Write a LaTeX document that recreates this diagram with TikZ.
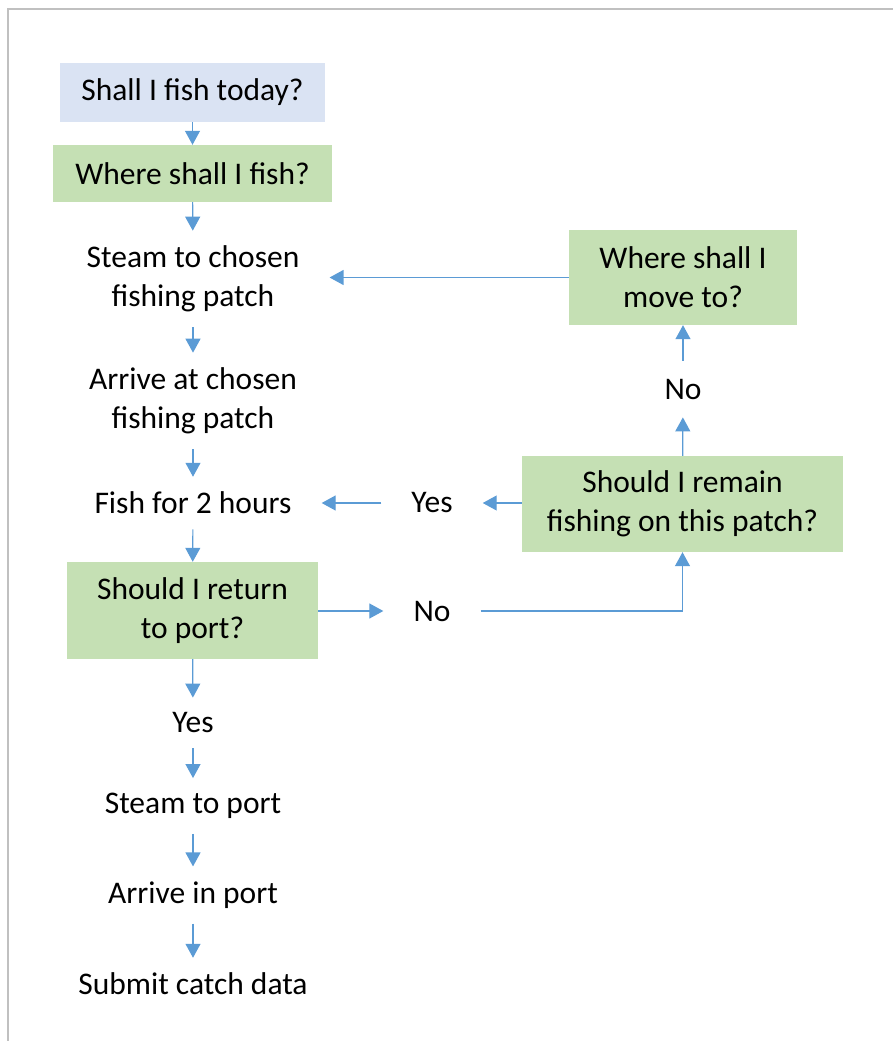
\documentclass[tikz,border=0pt]{standalone}
\usepackage{fontspec}
\setmainfont{Carlito}
\usetikzlibrary{arrows.meta}
\definecolor{boxblue}{HTML}{DAE3F3}
\definecolor{boxgreen}{HTML}{C5E0B4}
\definecolor{lineblue}{HTML}{5B9BD5}
\definecolor{framegray}{HTML}{C0C0C0}
\begin{document}
\begin{tikzpicture}[x=1pt,y=-1pt,
    font=\fontsize{31.5}{39}\selectfont,
    txt/.style={align=center, inner xsep=30pt, inner ysep=15pt},
    qbox/.style={align=center, inner sep=0pt, fill=boxgreen},
    arr/.style={draw=lineblue, line width=1.2pt, -{Triangle[length=14pt,width=15pt]}}]
  \useasboundingbox (0,0) rectangle (893,1041);
  \draw[framegray, line width=2pt] (8,1041) -- (8,9) -- (893,9);

  \node[qbox, fill=boxblue, minimum width=265pt, minimum height=59pt] (today) at (192.5,92.5) {Shall I fish today?};
  \node[qbox, minimum width=279pt, minimum height=57pt] (where) at (192.5,173.5) {Where shall I fish?};
  \node[txt] (steam) at (193,279) {Steam to chosen\\fishing patch};
  \node[txt] (arrive) at (193,401) {Arrive at chosen\\fishing patch};
  \node[txt] (fish) at (193,503) {Fish for 2 hours};
  \node[qbox, minimum width=251pt, minimum height=97pt] (return) at (192.5,610.5) {Should I return\\to port?};
  \node[txt] (yesport) at (193,723) {Yes};
  \node[txt] (steamport) at (193,806) {Steam to port};
  \node[txt] (inport) at (193,895) {Arrive in port};
  \node[txt] (submit) at (193,984) {Submit catch data};

  \node[qbox, minimum width=228pt, minimum height=95pt] (move) at (683,277.5) {Where shall I\\move to?};
  \node[txt, inner ysep=18pt] (nomove) at (683,389) {No};
  \node[qbox, minimum width=321pt, minimum height=96pt] (remain) at (682.5,504) {Should I remain\\fishing on this patch?};
  \node[txt] (yesstay) at (432,503) {Yes};
  \node[txt] (noreturn) at (432,611) {No};

  \draw[arr] (today) -- (where);
  \draw[arr] (where) -- (steam);
  \draw[arr] (steam) -- (arrive);
  \draw[arr] (arrive) -- (fish);
  \draw[arr] (fish) -- (return);
  \draw[arr] (return) -- (yesport);
  \draw[arr] (yesport) -- (steamport);
  \draw[arr] (steamport) -- (inport);
  \draw[arr] (inport) -- (submit);
  \draw[arr] (return.east |- noreturn) -- (noreturn);
  \draw[arr] (noreturn) -| (remain);
  \draw[arr] (remain.west |- yesstay) -- (yesstay);
  \draw[arr] (yesstay) -- (fish);
  \draw[arr] (remain) -- (nomove);
  \draw[arr] (nomove) -- (move);
  \draw[arr] (move.west) -- (move.west -| steam.east);
\end{tikzpicture}
\end{document}
